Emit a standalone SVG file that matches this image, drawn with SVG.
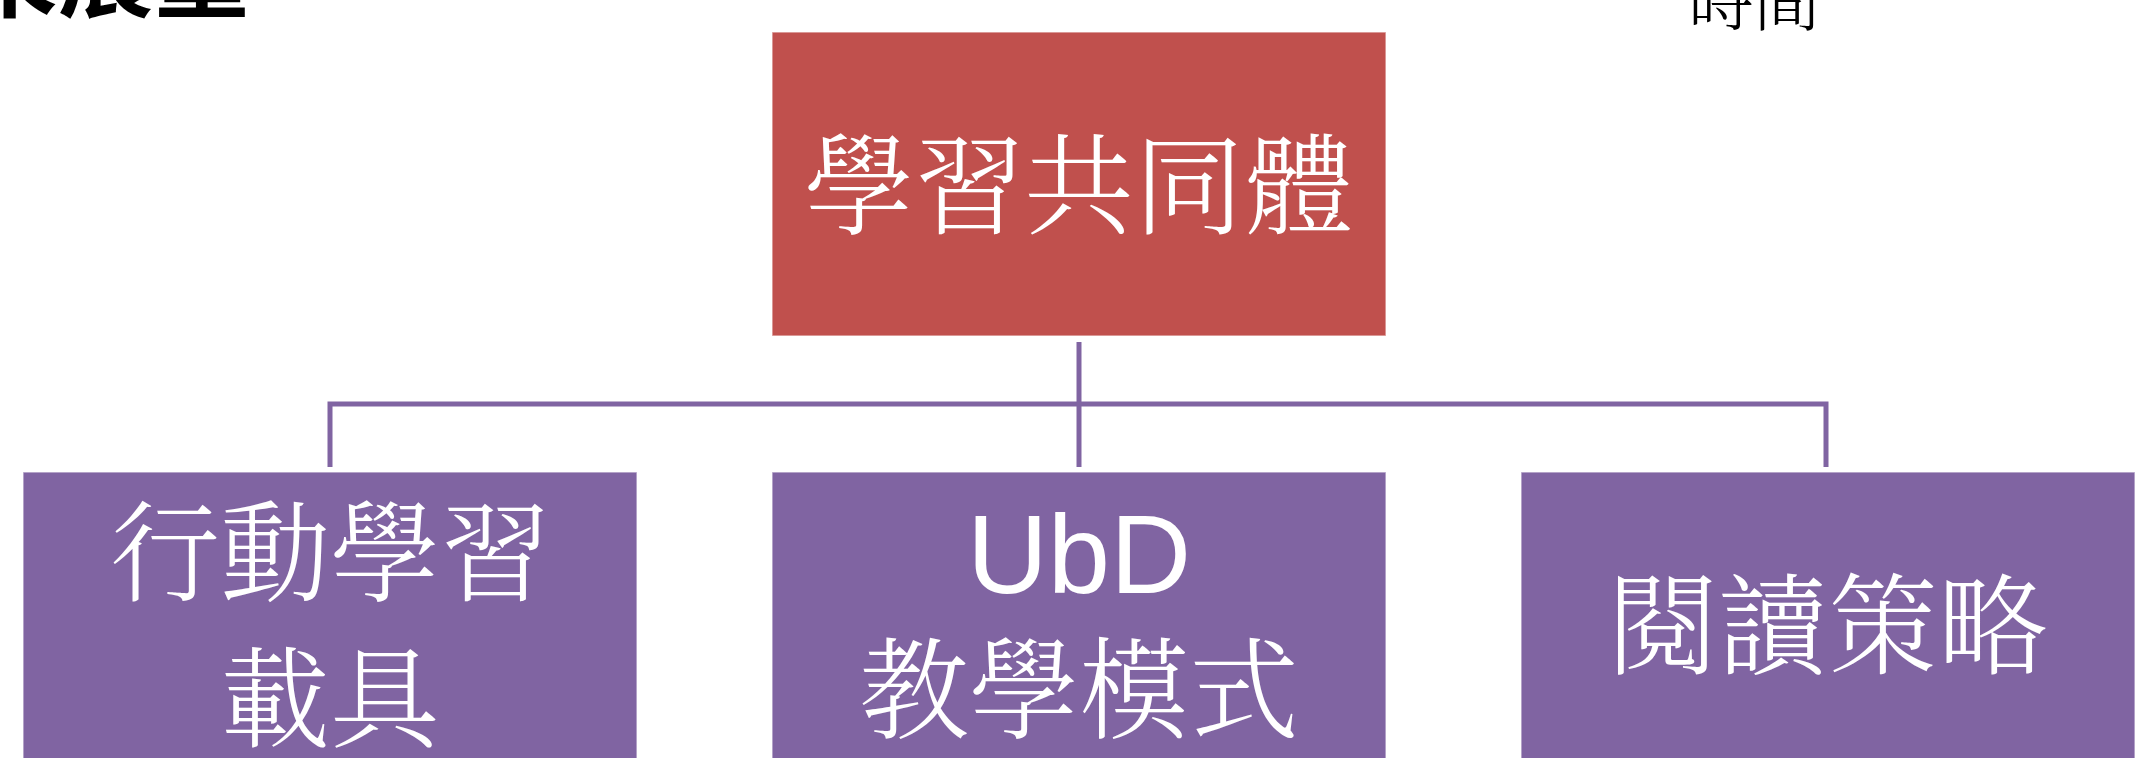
<svg xmlns="http://www.w3.org/2000/svg" width="2137" height="758" viewBox="0 0 2137 758">
  <style>
    .bg { fill: #ffffff; }
    .box-top { fill: #C0504D; stroke: #ffffff; stroke-opacity: 0.55; stroke-width: 1.5; }
    .box { fill: #8064A2; stroke: #ffffff; stroke-opacity: 0.55; stroke-width: 1.5; }
    .conn { fill: none; stroke: #8064A2; stroke-width: 5; stroke-linejoin: miter; stroke-linecap: butt; }
    .cjk { font-family: "Noto Serif CJK TC", "Noto Sans CJK TC", "Noto Sans CJK SC", sans-serif; font-size: 110px; fill: #ffffff; text-anchor: middle; font-weight: 300; }
    .latin { font-family: "Liberation Sans", Arial, sans-serif; font-size: 112px; fill: #ffffff; text-anchor: middle; }
    .corner-l { font-family: "Noto Sans CJK TC", "Noto Sans CJK SC", sans-serif; font-size: 96px; font-weight: bold; fill: #000000; text-anchor: end; }
    .corner-r { font-family: "Noto Serif CJK TC", "Noto Sans CJK TC", sans-serif; font-size: 66px; font-weight: 300; fill: #000000; text-anchor: middle; }
  </style>
  <rect class="bg" x="0" y="0" width="2137" height="758"/>

  <g id="title-left">
    <text class="corner-l" x="250" y="9">來展望</text>
  </g>
  <g id="title-right">
    <text class="corner-r" x="1754" y="25">時間</text>
  </g>

  <g id="connectors">
    <path class="conn" d="M1079,342 V404"/>
    <path class="conn" d="M330,467 V404 H1826 V467"/>
    <path class="conn" d="M1079,404 V467"/>
  </g>

  <g id="node-top">
    <rect class="box-top" x="772" y="32" width="614" height="304"/>
    <text class="cjk" x="1079" y="226">學習共同體</text>
  </g>

  <g id="node-mobile">
    <rect class="box" x="23" y="472" width="614" height="304"/>
    <text class="cjk" x="330" y="593">行動學習</text>
    <text class="cjk" x="330" y="739">載具</text>
  </g>

  <g id="node-ubd">
    <rect class="box" x="772" y="472" width="614" height="304"/>
    <text class="latin" x="1079" y="593">UbD</text>
    <text class="cjk" x="1079" y="730">教學模式</text>
  </g>

  <g id="node-reading">
    <rect class="box" x="1521" y="472" width="614" height="304"/>
    <text class="cjk" x="1828" y="666">閱讀策略</text>
  </g>
</svg>
